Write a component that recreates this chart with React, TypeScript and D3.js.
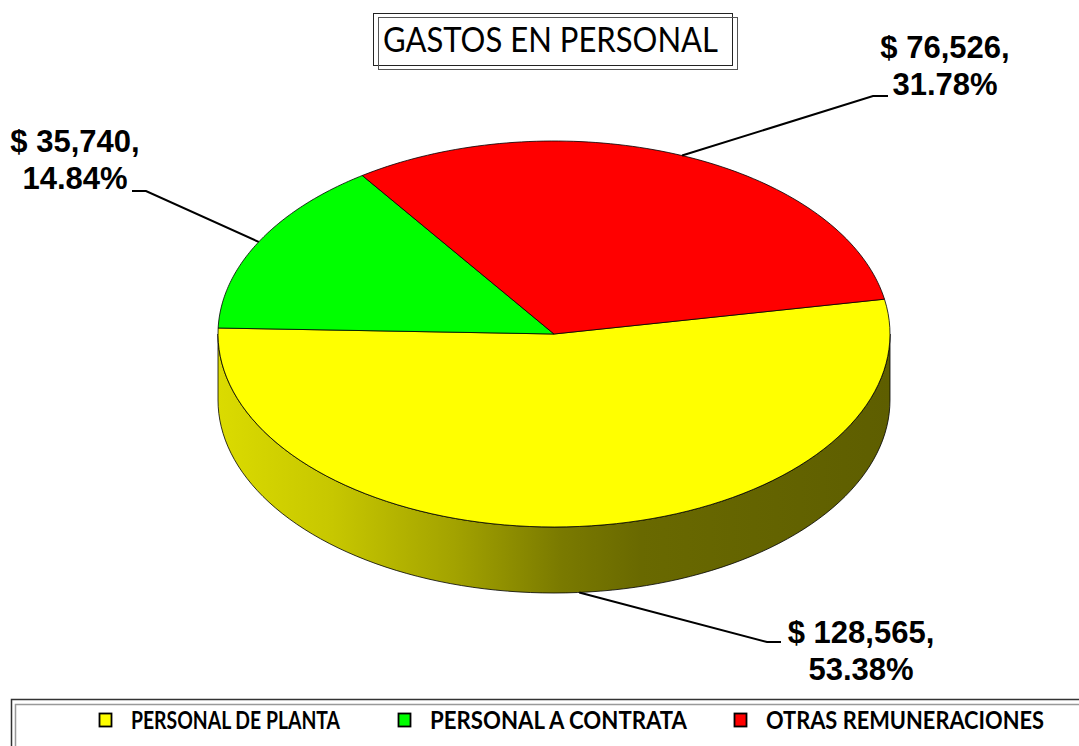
import React from "react";
import * as d3 from "d3";

// data
const categories = ["PERSONAL DE PLANTA", "PERSONAL A CONTRATA", "OTRAS REMUNERACIONES"];
const values = [128565, 35740, 76526];
const colors = ["#ffff00", "#00ff00", "#ff0000"];
const title = "GASTOS EN PERSONAL";

// layout
const W = 1079, H = 746;
const cx = 554, cy = 334, rx = 336, ry = 193, depth = 66;
const startDeg = 79.6;

// where each data label sits (text centre, first baseline, leader elbow)
const labelLayout = [
  { tx: 861, ty: 643, ex: 767, ey: 642, hx: 781 },
  { tx: 75, ty: 152, ex: 146, ey: 191, hx: 132 },
  { tx: 945, ty: 58, ex: 873, ey: 96, hx: 888 },
];
const legendX = [99, 398, 734];
const legendTextW = [209, 257, 278];

const P = (a: number, dy = 0): [number, number] => [cx + rx * Math.sin(a), cy - ry * Math.cos(a) + dy];
const arcPts = (a0: number, a1: number, dy: number, n = 90) =>
  d3.range(n + 1).map(i => P(a0 + ((a1 - a0) * i) / n, dy));

const line = d3.line();
const money = d3.format(",");
const pct = d3.format(".2%");

// side gradient shades (fraction of the base colour) across the pie width
const shadeStops = [
  [0, 0.86], [0.17, 0.78], [0.35, 0.64], [0.51, 0.48], [0.63, 0.41], [1, 0.37],
];

export default function App() {
  const total = d3.sum(values);
  const start = (startDeg * Math.PI) / 180;
  const arcs = d3.pie<number>().sort(null).startAngle(start).endAngle(start + 2 * Math.PI)(values);

  // front faces (visible side wall)
  const sides: { i: number; d: string }[] = [];
  arcs.forEach((s, i) => {
    [0, 2 * Math.PI].forEach(k => {
      const a0 = Math.max(s.startAngle, Math.PI / 2 + k);
      const a1 = Math.min(s.endAngle, (3 * Math.PI) / 2 + k);
      if (a1 > a0) {
        const pts = [...arcPts(a0, a1, 0), ...arcPts(a1, a0, depth)];
        sides.push({ i, d: line(pts) + "Z" });
      }
    });
  });

  return (
    <svg width={W} height={H} style={{ position: "absolute", left: 0, top: 0, background: "#fff" }}>
      <defs>
        {colors.map((c, i) => {
          const rgb = d3.rgb(c);
          return (
            <linearGradient key={i} id={`side${i}`} gradientUnits="userSpaceOnUse" x1={cx - rx} x2={cx + rx} y1={0} y2={0}>
              {shadeStops.map(([o, f], j) => (
                <stop key={j} offset={o} stopColor={d3.rgb(rgb.r * f, rgb.g * f, rgb.b * f).formatHex()} />
              ))}
            </linearGradient>
          );
        })}
      </defs>

      {/* title */}
      <rect x={373.5} y={13.5} width={359} height={52} fill="none" stroke="#222" strokeWidth={1} />
      <rect x={378.5} y={17.5} width={359} height={52} fill="none" stroke="#555" strokeWidth={1} />
      <text x={383} y={52} fontFamily="Lato, 'Open Sans', sans-serif" fontSize={34} textLength={335}
        lengthAdjust="spacingAndGlyphs" fill="#000">{title}</text>

      {/* side wall */}
      {sides.map((s, k) => (
        <path key={k} d={s.d} fill={`url(#side${s.i})`} stroke="#000" strokeWidth={0.8} />
      ))}

      {/* top faces */}
      {arcs.map((s, i) => (
        <path key={i} d={line([[cx, cy], ...arcPts(s.startAngle, s.endAngle, 0)]) + "Z"}
          fill={colors[i]} stroke="#000" strokeWidth={0.8} strokeLinejoin="round" />
      ))}

      {/* data labels */}
      {arcs.map((s, i) => {
        const mid = (s.startAngle + s.endAngle) / 2;
        const m = ((mid % (2 * Math.PI)) + 2 * Math.PI) % (2 * Math.PI);
        const front = m > Math.PI / 2 && m < (3 * Math.PI) / 2;
        const p0 = P(mid, front ? depth : 0);
        const L = labelLayout[i];
        return (
          <g key={i}>
            <path d={line([p0, [L.ex, L.ey], [L.hx, L.ey]]) || ""} fill="none" stroke="#000" strokeWidth={2} />
            <text x={L.tx} y={L.ty} textAnchor="middle" fontFamily="'Liberation Sans', Arial, sans-serif"
              fontWeight="bold" fontSize={31} fill="#000">
              <tspan x={L.tx}>{`$ ${money(values[i])},`}</tspan>
              <tspan x={L.tx} dy={37}>{pct(values[i] / total)}</tspan>
            </text>
          </g>
        );
      })}

      {/* legend */}
      <rect x={11.5} y={699.5} width={1100} height={80} fill="none" stroke="#333" strokeWidth={1.5} />
      <rect x={15.5} y={704.5} width={1100} height={80} fill="none" stroke="#999" strokeWidth={1.5} />
      {categories.map((c, i) => (
        <g key={c}>
          <rect x={legendX[i] + 0.5} y={713.5} width={12} height={13} fill={colors[i]} stroke="#000" strokeWidth={1.8} />
          <text x={legendX[i] + 32} y={729} fontFamily="'Liberation Sans Narrow', Lato, sans-serif" fontWeight="bold"
            fontSize={24} textLength={legendTextW[i]} lengthAdjust="spacingAndGlyphs" fill="#000">{c}</text>
        </g>
      ))}
    </svg>
  );
}
